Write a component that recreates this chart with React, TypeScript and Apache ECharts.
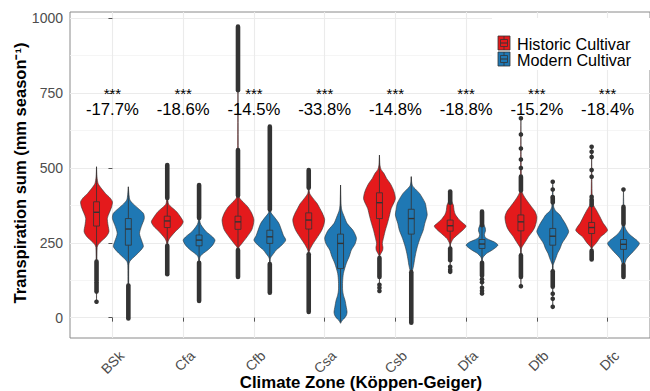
import React, { useEffect, useRef } from "react";
import * as echarts from "echarts";

const categories = ["BSk", "Cfa", "Cfb", "Csa", "Csb", "Dfa", "Dfb", "Dfc"];
const changeLabels = ["-17.7%", "-18.6%", "-14.5%", "-33.8%", "-14.8%", "-18.8%", "-15.2%", "-18.4%"];
const significance = ["***", "***", "***", "***", "***", "***", "***", "***"];
const yTicks = [0, 250, 500, 750, 1000];
const yMinorTicks = [125, 375, 625, 875];
const seriesNames = ["Historic Cultivar", "Modern Cultivar"];

// violin density profiles: [transpiration value, relative width]
const historicViolins: number[][][] = [
  [[53,0],[150,0.02],[235,0.04],[245,0.12],[255,0.3],[270,0.6],[287,0.78],[310,0.72],[332,0.68],[350,0.8],[370,0.95],[387,1.0],[400,0.85],[415,0.56],[432,0.3],[448,0.1],[470,0.03],[504,0]],
  [[145,0],[240,0.02],[255,0.06],[265,0.15],[287,0.5],[305,0.85],[320,1.0],[335,0.85],[354,0.59],[370,0.25],[380,0.08],[400,0.03],[510,0]],
  [[136,0],[228,0.02],[237,0.08],[248,0.25],[270,0.57],[295,0.88],[326,1.0],[350,0.85],[370,0.62],[385,0.35],[398,0.12],[410,0.04],[972,0]],
  [[19,0],[215,0.02],[226,0.06],[245,0.25],[265,0.5],[290,0.8],[310,0.95],[328,1.0],[350,0.85],[365,0.7],[382,0.52],[400,0.25],[415,0.06],[430,0.02],[493,0]],
  [[89,0],[205,0.02],[215,0.1],[225,0.2],[235,0.22],[248,0.18],[270,0.27],[292,0.37],[315,0.5],[337,0.61],[365,0.74],[385,0.92],[398,1.0],[415,0.95],[430,0.85],[448,0.68],[465,0.45],[482,0.28],[495,0.1],[510,0.03],[543,0]],
  [[153,0],[245,0.02],[253,0.08],[264,0.2],[281,0.55],[295,0.85],[306,1.0],[316,0.8],[328,0.55],[345,0.32],[359,0.24],[376,0.2],[390,0.08],[421,0]],
  [[105,0],[228,0.02],[237,0.08],[255,0.3],[270,0.47],[290,0.75],[303,0.88],[320,0.97],[337,1.0],[355,0.88],[370,0.67],[393,0.35],[410,0.15],[425,0.05],[666,0]],
  [[194,0],[230,0.02],[237,0.08],[250,0.3],[270,0.57],[282,0.85],[292,1.0],[303,0.9],[315,0.73],[337,0.52],[359,0.3],[375,0.12],[390,0.04],[571,0]],
];
const modernViolins: number[][][] = [
  [[-3,0],[100,0.02],[175,0.03],[187,0.08],[200,0.3],[215,0.6],[237,0.94],[255,0.85],[281,0.7],[305,0.82],[331,1.0],[348,0.95],[365,0.62],[380,0.3],[393,0.1],[411,0.04],[437,0]],
  [[56,0],[190,0.02],[203,0.06],[212,0.2],[226,0.55],[242,0.85],[259,1.0],[272,0.8],[287,0.45],[300,0.25],[312,0.1],[325,0.04],[443,0]],
  [[83,0],[195,0.02],[203,0.08],[215,0.25],[226,0.4],[242,0.75],[259,1.0],[275,0.85],[290,0.75],[315,0.57],[335,0.3],[350,0.08],[365,0.03],[638,0]],
  [[-19,0],[-8,0.12],[0,0.28],[10,0.38],[19,0.41],[35,0.36],[58,0.28],[75,0.18],[92,0.13],[120,0.13],[148,0.18],[181,0.36],[205,0.55],[226,0.68],[245,0.9],[265,1.0],[280,0.9],[292,0.78],[315,0.41],[335,0.25],[359,0.08],[380,0.03],[443,0]],
  [[-17,0],[150,0.02],[159,0.08],[175,0.15],[192,0.2],[215,0.28],[237,0.38],[265,0.55],[292,0.75],[315,0.85],[343,1.0],[362,0.95],[382,0.88],[400,0.7],[415,0.52],[430,0.25],[440,0.08],[455,0.02],[471,0]],
  [[81,0],[195,0.02],[203,0.08],[215,0.3],[226,0.65],[242,1.0],[252,0.8],[259,0.5],[268,0.2],[278,0.15],[290,0.22],[300,0.2],[315,0.08],[330,0.03],[354,0]],
  [[36,0],[175,0.02],[181,0.06],[200,0.2],[215,0.3],[230,0.45],[248,0.58],[270,0.85],[287,1.0],[300,0.92],[315,0.78],[330,0.6],[343,0.45],[355,0.2],[370,0.06],[454,0]],
  [[136,0],[175,0.02],[181,0.08],[197,0.2],[220,0.6],[235,0.85],[248,1.0],[258,0.85],[265,0.68],[281,0.33],[298,0.12],[315,0.05],[428,0]],
];

// box statistics: [lower whisker, Q1, median, Q3, upper whisker]
const historicBoxes: number[][] = [
  [190,306,352,387,504],[244,301,323,339,396],[229,295,320,339,405],[215,296,326,350,431],
  [202,331,384,417,543],[234,289,307,326,381],[211,290,320,343,422],[226,281,301,318,373],
];
const modernBoxes: number[][] = [
  [110,242,296,331,437],[186,240,259,276,330],[182,248,270,292,358],[-15,164,248,279,443],
  [155,279,331,362,471],[186,231,246,261,306],[158,242,272,298,382],[179,228,245,261,310],
];

// dense runs of overlapping outlier points [from, to] and isolated outliers
const historicOutlierRuns: number[][][] = [
  [[125,187],[87,118]], [[400,510],[145,240]], [[408,560],[760,972],[136,226]], [[434,493],[19,212]],
  [[136,199]], [[384,421],[192,231]], [[425,471],[136,208]], [[376,395],[194,223]],
];
const historicOutlierPoints: number[][] = [
  [53], [], [], [], [110,100,89], [170,160,153], [666,612,565,528,500,105], [571,554,537,493,471,404],
];
const modernOutlierRuns: number[][][] = [
  [[-3,107]], [[333,443],[56,183]], [[361,638],[83,179]], [],
  [[-17,152]], [[309,354],[140,183]], [[385,400],[103,155]], [[313,370],[136,176]],
];
const modernOutlierPoints: number[][] = [
  [], [], [], [], [], [128,118,100,90,81], [454,428,403,80,63,36], [428],
];

const RED = "#E41A1C";
const BLUE = "#1F78B4";
const DARK = "#333333";
const FONT = "'Liberation Sans', Arial, sans-serif";
const HALF = 0.225;
const BOX_HALF = 0.042;
const DODGE = 0.225;

function makeRender(violins: number[][][], boxes: number[][], runs: number[][][], points: number[][], offset: number, color: string) {
  return (params: any, api: any) => {
    const i = api.value(0);
    const cx = i + offset;
    const prof = violins[i];
    const right = prof.map(([v, w]) => api.coord([cx + w * HALF, v]));
    const left = prof.slice().reverse().map(([v, w]) => api.coord([cx - w * HALF, v]));
    const children: any[] = [];
    children.push({
      type: "polygon",
      shape: { points: right.concat(left), smooth: 0.25 },
      style: { fill: color, stroke: DARK, lineWidth: 0.6 },
    });
    const [lo, q1, med, q3, hi] = boxes[i];
    const seg = (a: number, b: number, w: number, cap?: string) => {
      const p1 = api.coord([cx, a]);
      const p2 = api.coord([cx, b]);
      return {
        type: "line",
        shape: { x1: p1[0], y1: p1[1], x2: p2[0], y2: p2[1] },
        style: { stroke: DARK, lineWidth: w, lineCap: cap || "butt" },
      };
    };
    children.push(seg(q1, lo, 0.8));
    children.push(seg(q3, hi, 0.8));
    const tl = api.coord([cx - BOX_HALF, q3]);
    const br = api.coord([cx + BOX_HALF, q1]);
    children.push({
      type: "rect",
      shape: { x: tl[0], y: tl[1], width: br[0] - tl[0], height: br[1] - tl[1] },
      style: { fill: color, stroke: DARK, lineWidth: 0.8 },
    });
    const m1 = api.coord([cx - BOX_HALF, med]);
    const m2 = api.coord([cx + BOX_HALF, med]);
    children.push({
      type: "line",
      shape: { x1: m1[0], y1: m1[1], x2: m2[0], y2: m2[1] },
      style: { stroke: DARK, lineWidth: 1.4 },
    });
    runs[i].forEach(([a, b]) => children.push(seg(a, b, 4.6, "round")));
    points[i].forEach((v) => {
      const p = api.coord([cx, v]);
      children.push({ type: "circle", shape: { cx: p[0], cy: p[1], r: 2.3 }, style: { fill: DARK } });
    });
    return { type: "group", children };
  };
}

function legendKey(x: number, y: number, color: string) {
  return [
    { type: "rect", z: 10, shape: { x, y, width: 12, height: 14 }, style: { fill: color, stroke: DARK, lineWidth: 0.8 } },
    { type: "rect", z: 11, shape: { x: x + 2.5, y: y + 3.5, width: 7, height: 7 }, style: { fill: "none", stroke: DARK, lineWidth: 0.8 } },
    { type: "line", z: 11, shape: { x1: x + 2.5, y1: y + 7, x2: x + 9.5, y2: y + 7 }, style: { stroke: DARK, lineWidth: 1 } },
    { type: "line", z: 11, shape: { x1: x + 6, y1: y, x2: x + 6, y2: y + 3.5 }, style: { stroke: DARK, lineWidth: 0.8 } },
    { type: "line", z: 11, shape: { x1: x + 6, y1: y + 10.5, x2: x + 6, y2: y + 14 }, style: { stroke: DARK, lineWidth: 0.8 } },
  ];
}

export default function App() {
  const ref = useRef<HTMLDivElement>(null);
  useEffect(() => {
    if (!ref.current) return;
    const chart = echarts.init(ref.current, undefined, { renderer: "svg" });
    const idxData = categories.map((_, i) => [i]);
    const option: any = {
      animation: false,
      backgroundColor: "#ffffff",
      grid: { left: 70, top: 12, width: 583, height: 326, show: true, borderColor: "#8a8a8a", borderWidth: 1, backgroundColor: "transparent" },
      xAxis: {
        type: "value",
        min: -0.6,
        max: 7.6,
        axisLine: { show: false },
        axisTick: { show: true, length: 4, customValues: categories.map((_, i) => i), lineStyle: { color: "#555" } },
        axisLabel: {
          customValues: categories.map((_, i) => i),
          formatter: (v: number) => categories[Math.round(v)] || "",
          rotate: 45,
          align: "right",
          verticalAlign: "top",
          padding: [6, 0, 0, 0],
          color: "#4d4d4d",
          fontSize: 14,
          fontFamily: FONT,
          margin: 6,
        },
        splitLine: { show: true, lineStyle: { color: "#ebebeb", width: 1.1 } },
      },
      yAxis: [
        {
          type: "value",
          min: -68,
          max: 1021,
          axisLine: { show: false },
          axisTick: { show: true, length: 4, customValues: yTicks, lineStyle: { color: "#555" } },
          axisLabel: { customValues: yTicks, formatter: (v: number) => String(v), color: "#4d4d4d", fontSize: 14, fontFamily: FONT, margin: 7 },
          splitLine: { show: true, lineStyle: { color: "#ebebeb", width: 1.1 } },
        },
        {
          type: "value",
          min: -68,
          max: 1021,
          position: "left",
          axisLine: { show: false },
          axisTick: { show: false, customValues: yMinorTicks },
          axisLabel: { show: false, customValues: yMinorTicks },
          splitLine: { show: true, lineStyle: { color: "#f3f3f3", width: 0.8 } },
        },
      ],
      graphic: [
        { type: "rect", z: 5, shape: { x: 492, y: 18, width: 161, height: 52 }, style: { fill: "#ffffff" } },
        ...legendKey(498, 36, RED),
        ...legendKey(498, 52, BLUE),
        { type: "text", z: 10, x: 517, y: 43.5, style: { text: seriesNames[0], fill: "#000", font: `16.2px ${FONT}`, textVerticalAlign: "middle" } },
        { type: "text", z: 10, x: 517, y: 60, style: { text: seriesNames[1], fill: "#000", font: `16.2px ${FONT}`, textVerticalAlign: "middle" } },
        {
          type: "text", x: 20, y: 173, rotation: Math.PI / 2,
          style: { text: "Transpiration sum (mm season⁻¹)", fill: "#000", font: `bold 16.5px ${FONT}`, textAlign: "center", textVerticalAlign: "middle" },
        },
        {
          type: "text", x: 361, y: 382,
          style: { text: "Climate Zone (Köppen-Geiger)", fill: "#000", font: `bold 16.8px ${FONT}`, textAlign: "center", textVerticalAlign: "middle" },
        },
      ],
      series: [
        {
          name: seriesNames[0], type: "custom", data: idxData, z: 3,
          encode: { x: 0 },
          renderItem: makeRender(historicViolins, historicBoxes, historicOutlierRuns, historicOutlierPoints, -DODGE, RED),
        },
        {
          name: seriesNames[1], type: "custom", data: idxData, z: 3,
          encode: { x: 0 },
          renderItem: makeRender(modernViolins, modernBoxes, modernOutlierRuns, modernOutlierPoints, DODGE, BLUE),
        },
        {
          name: "annotations", type: "custom", data: idxData, z: 4,
          encode: { x: 0 },
          renderItem: (params: any, api: any) => {
            const i = api.value(0);
            const p1 = api.coord([i, 750]);
            const p2 = api.coord([i, 695]);
            return {
              type: "group",
              children: [
                { type: "text", x: p1[0], y: p1[1], style: { text: significance[i], fill: "#000", font: `15px ${FONT}`, textAlign: "center", textVerticalAlign: "middle" } },
                { type: "text", x: p2[0], y: p2[1], style: { text: changeLabels[i], fill: "#000", font: `16.7px ${FONT}`, textAlign: "center", textVerticalAlign: "middle" } },
              ],
            };
          },
        },
      ],
    };
    chart.setOption(option);
    return () => chart.dispose();
  }, []);
  return <div ref={ref} style={{ width: 650, height: 391, position: "absolute", left: 0, top: 0 }} />;
}
